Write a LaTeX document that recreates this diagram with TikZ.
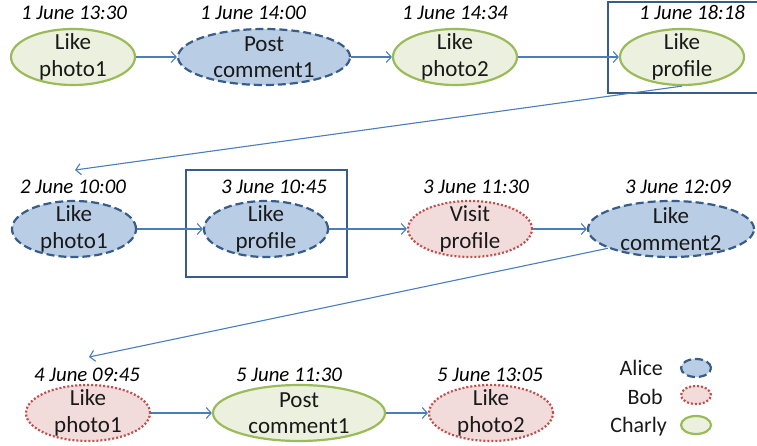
\documentclass[tikz,border=0pt]{standalone}
\usepackage{fontspec}
\setmainfont{Carlito}
\usetikzlibrary{shapes.geometric,arrows.meta}
\definecolor{alicefill}{HTML}{B9CDE5}
\definecolor{alicedraw}{HTML}{385D8A}
\definecolor{bobfill}{HTML}{F2DCDB}
\definecolor{bobdraw}{HTML}{C0504D}
\definecolor{charlyfill}{HTML}{EBF1DE}
\definecolor{charlydraw}{HTML}{9BBB59}
\definecolor{arrowcol}{HTML}{4A7EBB}
\definecolor{boxcol}{HTML}{385D8A}
\begin{document}
\begin{tikzpicture}[x=1pt,y=-1pt,
  ev/.style={ellipse,inner sep=0pt,line width=2.2pt},
  alice/.style={ev,draw=alicedraw,fill=alicefill,dash pattern=on 8pt off 4pt},
  bob/.style={ev,draw=bobdraw,fill=bobfill,dash pattern=on 2pt off 2pt},
  charly/.style={ev,draw=charlydraw,fill=charlyfill},
  small/.style={minimum width=124pt,minimum height=56pt},
  wide/.style={minimum width=172pt,minimum height=56pt},
  lbl/.style={font=\fontsize{23}{26.5}\selectfont,align=center,inner sep=0pt,text=black!90},
  datel/.style={font=\fontsize{20.8}{24}\selectfont\itshape,anchor=base,inner sep=0pt,text=black},
  legtext/.style={font=\fontsize{22}{26}\selectfont,anchor=base east,inner sep=0pt,text=black!90},
  legev/.style={minimum width=30pt,minimum height=18pt,line width=2.2pt},
  conn/.style={draw=arrowcol,line width=1.1pt,-{Straight Barb[length=5pt,width=11pt,line width=1.1pt]}},
  hlbox/.style={draw=boxcol,line width=2pt}]
\useasboundingbox (0,0) rectangle (757,446);
% highlight boxes
\draw[hlbox] (608,2) rectangle (762,93);
\draw[hlbox] (186,170) rectangle (347,277);
% row 1
\node[charly,small] (e1) at (73,57) {};
\node[lbl] (t1) at (e1.center) {Like\\photo1};
\node[datel] (d1) at (74,20) {1 June 13:30};
\node[alice,wide] (e2) at (264,57) {};
\node[lbl] (t2) at (e2.center) {Post\\comment1};
\node[datel] (d2) at (253,20) {1 June 14:00};
\node[charly,small] (e3) at (455,57) {};
\node[lbl] (t3) at (e3.center) {Like\\photo2};
\node[datel] (d3) at (455,20) {1 June 14:34};
\node[charly,small] (e4) at (682,57) {};
\node[lbl] (t4) at (e4.center) {Like\\profile};
\node[datel] (d4) at (692,20) {1 June 18:18};
% row 2
\node[alice,small] (e5) at (74,229) {};
\node[lbl] (t5) at (e5.center) {Like\\photo1};
\node[datel] (d5) at (73,194) {2 June 10:00};
\node[alice,small] (e6) at (266,229) {};
\node[lbl] (t6) at (e6.center) {Like\\profile};
\node[datel] (d6) at (274,194) {3 June 10:45};
\node[bob,small] (e7) at (470,229) {};
\node[lbl] (t7) at (e7.center) {Visit\\profile};
\node[datel] (d7) at (476,194) {3 June 11:30};
\node[alice,minimum width=166pt,minimum height=56pt] (e8) at (671,229) {};
\node[lbl] (t8) at (e8.center) {Like\\comment2};
\node[datel] (d8) at (678,194) {3 June 12:09};
% row 3
\node[bob,small] (e9) at (88,413) {};
\node[lbl] (t9) at (e9.center) {Like\\photo1};
\node[datel] (d9) at (87,381) {4 June 09:45};
\node[charly,wide] (e10) at (299,413) {};
\node[lbl] (t10) at (e10.center) {Post\\comment1};
\node[datel] (d10) at (289,381) {5 June 11:30};
\node[bob,small] (e11) at (491,413) {};
\node[lbl] (t11) at (e11.center) {Like\\photo2};
\node[datel] (d11) at (490,381) {5 June 13:05};
% legend
\node[legtext] (la) at (663,375) {Alice};
\node[alice,legev] (lea) at (696,368) {};
\node[legtext] (lb) at (663,404) {Bob};
\node[bob,legev] (leb) at (696,395) {};
\node[legtext] (lc) at (667,432) {Charly};
\node[charly,legev] (lec) at (696,425) {};
% connectors
\coordinate (c1) at (75,170);
\coordinate (c2) at (89,357);
\draw[conn] (e1) -- (e2);
\draw[conn] (e2) -- (e3);
\draw[conn] (e3) -- (e4);
\draw[conn] (e4.south) -- (c1);
\draw[conn] (e5) -- (e6);
\draw[conn] (e6) -- (e7);
\draw[conn] (e7) -- (e8);
\draw[conn] (e8.197) -- (c2);
\draw[conn] (e9) -- (e10);
\draw[conn] (e10) -- (e11);
\end{tikzpicture}
\end{document}
